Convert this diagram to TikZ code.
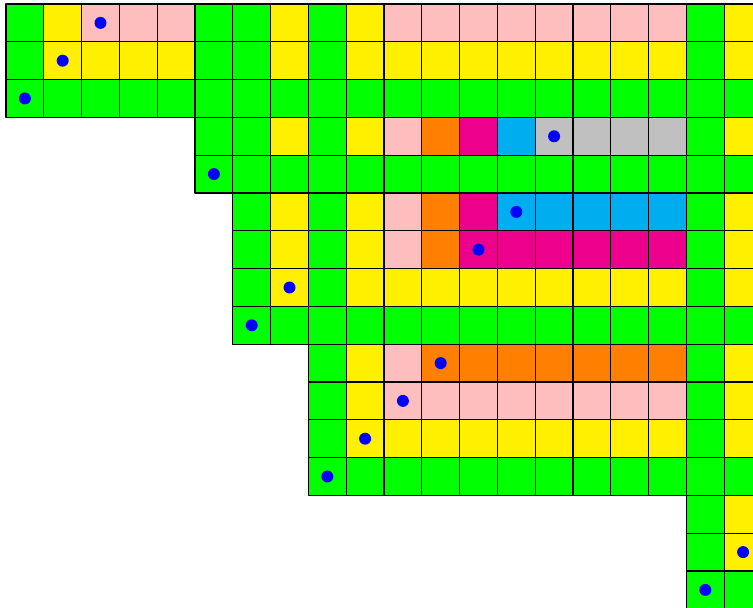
\documentclass[tikz,border=0pt]{standalone}
\definecolor{gr}{RGB}{0,255,0}
\definecolor{ye}{RGB}{255,240,0}
\definecolor{pk}{RGB}{255,190,190}
\definecolor{or}{RGB}{255,128,0}
\definecolor{mg}{RGB}{236,0,140}
\definecolor{cy}{RGB}{0,174,239}
\definecolor{gy}{RGB}{192,192,192}
\tikzset{
  cell/.style={draw=black,line width=0.8pt},
  dot/.style={fill=blue}
}
\begin{document}
\begin{tikzpicture}[line join=round, line cap=round, x=1cm, y=1cm]
	\useasboundingbox (-6/37.8,4/37.8) rectangle (747/37.8,-604/37.8);
	\clip (-6/37.8,4/37.8) rectangle (747/37.8,-604/37.8);
	% row / first column / colours
	\foreach \r/\s/\cols in {
		0/0/{gr,ye,pk,pk,pk,gr,gr,ye,gr,ye,pk,pk,pk,pk,pk,pk,pk,pk,gr,ye},
		1/0/{gr,ye,ye,ye,ye,gr,gr,ye,gr,ye,ye,ye,ye,ye,ye,ye,ye,ye,gr,ye},
		2/0/{gr,gr,gr,gr,gr,gr,gr,gr,gr,gr,gr,gr,gr,gr,gr,gr,gr,gr,gr,gr},
		3/5/{gr,gr,ye,gr,ye,pk,or,mg,cy,gy,gy,gy,gy,gr,ye},
		4/5/{gr,gr,gr,gr,gr,gr,gr,gr,gr,gr,gr,gr,gr,gr,gr},
		5/6/{gr,ye,gr,ye,pk,or,mg,cy,cy,cy,cy,cy,gr,ye},
		6/6/{gr,ye,gr,ye,pk,or,mg,mg,mg,mg,mg,mg,gr,ye},
		7/6/{gr,ye,gr,ye,ye,ye,ye,ye,ye,ye,ye,ye,gr,ye},
		8/6/{gr,gr,gr,gr,gr,gr,gr,gr,gr,gr,gr,gr,gr,gr},
		9/8/{gr,ye,pk,or,or,or,or,or,or,or,gr,ye},
		10/8/{gr,ye,pk,pk,pk,pk,pk,pk,pk,pk,gr,ye},
		11/8/{gr,ye,ye,ye,ye,ye,ye,ye,ye,ye,gr,ye},
		12/8/{gr,gr,gr,gr,gr,gr,gr,gr,gr,gr,gr,gr},
		13/18/{gr,ye},
		14/18/{gr,ye},
		15/18/{gr,gr}}
	{
		\foreach \c [count=\i from \s] in \cols
			\filldraw[cell,fill=\c] (\i,-\r) rectangle ++(1,-1);
	}
	% dots
	\foreach \x/\y in {2/0,1/1,0/2,14/3,5/4,13/5,12/6,7/7,6/8,11/9,10/10,9/11,8/12,19/14,18/15}
		\fill[dot] (\x+0.5,-\y-0.5) circle (6/37.8);
\end{tikzpicture}
\end{document}
